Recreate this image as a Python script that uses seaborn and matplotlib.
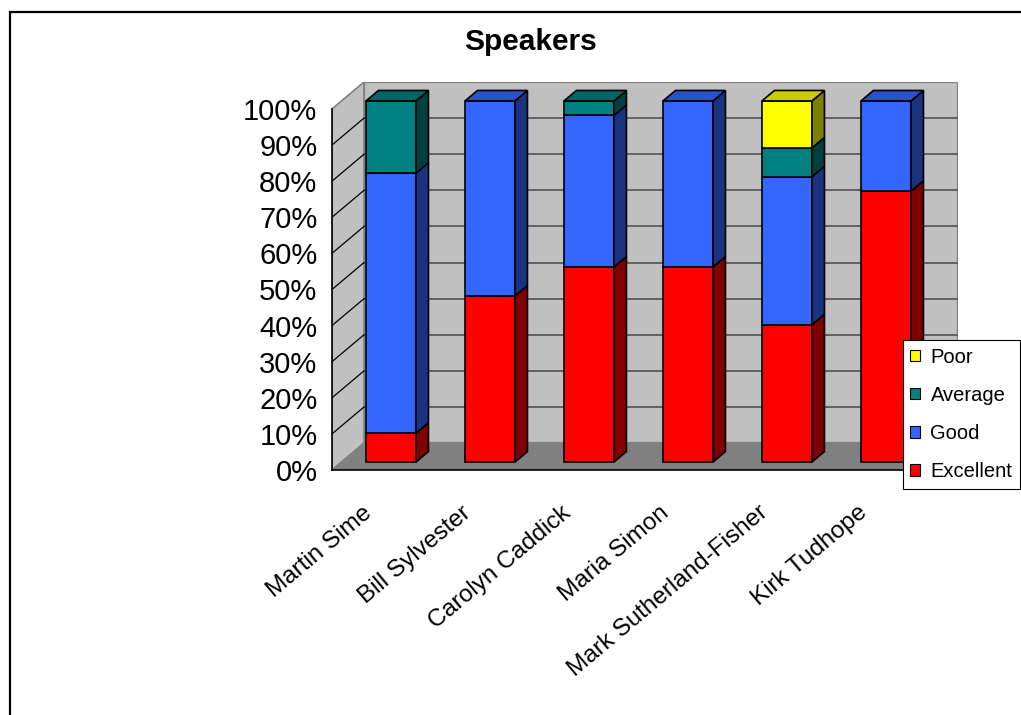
import matplotlib
matplotlib.use("Agg")
import matplotlib.pyplot as plt
import matplotlib.transforms as mtransforms
from matplotlib.patches import Polygon, Rectangle, Patch
import seaborn as sns

# ---------------- data ----------------
speakers = ["Martin Sime", "Bill Sylvester", "Carolyn Caddick", "Maria Simon",
            "Mark Sutherland-Fisher", "Kirk Tudhope"]
excellent = [8, 46, 54, 54, 38, 75]
good = [72, 54, 42, 46, 41, 25]
average = [20, 0, 4, 0, 8, 0]
poor = [0, 0, 0, 0, 13, 0]
series_names = ["Excellent", "Good", "Average", "Poor"]
y_ticks = [0, 10, 20, 30, 40, 50, 60, 70, 80, 90, 100]
y_tick_labels = [f"{v}%" for v in y_ticks]
title = "Speakers"

# ---------------- style ----------------
sns.set_style("white")
plt.rcParams["font.family"] = ["Liberation Sans", "DejaVu Sans"]
plt.rcParams["text.color"] = "black"
plt.rcParams["xtick.color"] = "black"
plt.rcParams["ytick.color"] = "black"
plt.rcParams["axes.labelcolor"] = "black"

front_cols = {"Excellent": "#FF0000", "Good": "#3366FF", "Average": "#008080", "Poor": "#FFFF00"}
side_cols = {"Excellent": "#800000", "Good": "#1A3380", "Average": "#004040", "Poor": "#808000"}
top_cols = {"Excellent": "#CC0000", "Good": "#2952CC", "Average": "#006666", "Poor": "#CCCC00"}
values = {"Excellent": excellent, "Good": good, "Average": average, "Poor": poor}

W, H = 1021, 715
fig = plt.figure(figsize=(W / 100, H / 100), dpi=100)

# axes in pixel geometry of the reference
ax_l, ax_r, ax_t, ax_b = 332, 958, 82, 470
ax = fig.add_axes([ax_l / W, 1 - ax_b / H, (ax_r - ax_l) / W, (ax_b - ax_t) / H])
ax.patch.set_alpha(0)

n = len(speakers)
DX = 32 / 99.0       # depth offset in category units
DY = 7.46            # depth offset in percent units
ax.set_xlim(0, n + DX)
ax.set_ylim(0, 100 + DY)

# walls and floor
wall_c = "#C0C0C0"
ax.add_patch(Polygon([(0, 0), (DX, DY), (DX, 100 + DY), (0, 100)], closed=True,
                     facecolor=wall_c, edgecolor="#808080", lw=1.2, zorder=0.5))
ax.add_patch(Polygon([(0, 0), (n, 0), (n + DX, DY), (DX, DY)], closed=True,
                     facecolor="#808080", edgecolor="#808080", lw=1.0, zorder=0.6))
ax.add_patch(Rectangle((DX, DY), n, 100, facecolor=wall_c, edgecolor="#808080",
                       lw=1.6, zorder=0.4))
for v in y_ticks[1:-1]:
    ax.plot([DX, n + DX], [v + DY, v + DY], color="#5A5A5A", lw=1.3, zorder=0.7)
    ax.plot([0, DX], [v, v + DY], color="black", lw=0.9, zorder=0.7)

# bars
w = 50 / 99.0
f0 = 0.296
d = 0.39
edge_kw = dict(edgecolor="black", linewidth=1.2)
for i in range(n):
    x0 = i + (1 - w) / 2 + f0 * DX
    base = f0 * DY
    cum = 0.0
    segs = [(s, values[s][i]) for s in series_names if values[s][i] > 0]
    for k, (s, v) in enumerate(segs):
        y0 = base + cum
        y1 = y0 + v
        ax.bar(x0 + w / 2, v, width=w, bottom=y0, color=front_cols[s], zorder=3, **edge_kw)
        xr = x0 + w
        ax.add_patch(Polygon([(xr, y0), (xr + d * DX, y0 + d * DY), (xr + d * DX, y1 + d * DY), (xr, y1)],
                             closed=True, facecolor=side_cols[s], zorder=3, **edge_kw))
        if k == len(segs) - 1:
            ax.add_patch(Polygon([(x0, y1), (xr, y1), (xr + d * DX, y1 + d * DY), (x0 + d * DX, y1 + d * DY)],
                                 closed=True, facecolor=top_cols[s], zorder=3, **edge_kw))
        cum += v

# axes lines and ticks
for sp in ["top", "right"]:
    ax.spines[sp].set_visible(False)
ax.spines["left"].set_bounds(0, 100)
ax.spines["bottom"].set_bounds(0, n)
for sp in ["left", "bottom"]:
    ax.spines[sp].set_color("black")
    ax.spines[sp].set_linewidth(1.2)
    ax.spines[sp].set_zorder(4)
ax.set_yticks(y_ticks)
ax.set_yticklabels(y_tick_labels, fontsize=21, color="black")
ax.set_xticks(range(n + 1))
ax.set_xticklabels([])
ax.tick_params(axis="y", direction="out", length=5, width=1, pad=5.5, colors="black")
ax.tick_params(axis="x", direction="out", length=6, width=1, colors="black")
ax.grid(False)

# category labels
trans = mtransforms.blended_transform_factory(ax.transData, ax.transAxes)
for i, name in enumerate(speakers):
    off = mtransforms.ScaledTranslation(-12 / 100, -40 / 100, fig.dpi_scale_trans)
    ax.text(i + 0.5, 0, name, transform=trans + off, rotation=40, ha="right", va="center",
            rotation_mode="anchor", fontsize=17.5, color="black", clip_on=False)

# title
fig.text(530 / W, 1 - 42 / H, title, ha="center", va="center", fontsize=21.5,
         fontweight="bold", color="black")

# legend
handles = [Patch(facecolor=front_cols[s], edgecolor="black", linewidth=0.8) for s in series_names[::-1]]
leg = fig.legend(handles, series_names[::-1], loc="upper right",
                 bbox_to_anchor=(1020 / W, 1 - 340 / H), bbox_transform=fig.transFigure,
                 frameon=True, fancybox=False, edgecolor="black", framealpha=1, borderaxespad=0,
                 fontsize=14.5, handlelength=0.5, handleheight=0.5, handletextpad=0.5,
                 labelspacing=0.95, borderpad=0.38)
leg.get_frame().set_linewidth(0.8)
for t in leg.get_texts():
    t.set_color("black")

# outer chart border (cropped at right and bottom)
fig.add_artist(Rectangle((10 / W, -0.5), 2.0, 1.5 - 12 / H, transform=fig.transFigure,
                         fill=False, edgecolor="black", linewidth=1.6))

fig.savefig("out.png", dpi=100)
